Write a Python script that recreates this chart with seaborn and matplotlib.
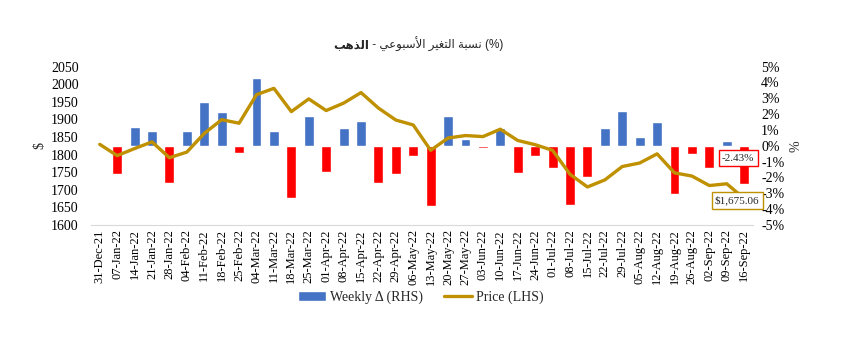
import numpy as np
import pandas as pd
import matplotlib
matplotlib.use('Agg')
import matplotlib.pyplot as plt
import seaborn as sns
from matplotlib.patches import Patch
from matplotlib.lines import Line2D
from matplotlib.ticker import FuncFormatter

# data
dates = ['31-Dec-21', '07-Jan-22', '14-Jan-22', '21-Jan-22', '28-Jan-22', '04-Feb-22',
         '11-Feb-22', '18-Feb-22', '25-Feb-22', '04-Mar-22', '11-Mar-22', '18-Mar-22',
         '25-Mar-22', '01-Apr-22', '08-Apr-22', '15-Apr-22', '22-Apr-22', '29-Apr-22',
         '06-May-22', '13-May-22', '20-May-22', '27-May-22', '03-Jun-22', '10-Jun-22',
         '17-Jun-22', '24-Jun-22', '01-Jul-22', '08-Jul-22', '15-Jul-22', '22-Jul-22',
         '29-Jul-22', '05-Aug-22', '12-Aug-22', '19-Aug-22', '26-Aug-22', '02-Sep-22',
         '09-Sep-22', '16-Sep-22']
price = [1829, 1797, 1817, 1836, 1791, 1807, 1860, 1899, 1889, 1970, 1988, 1922,
         1958, 1925, 1946, 1976, 1932, 1898, 1884, 1812, 1847, 1854, 1851, 1872,
         1840, 1828, 1812, 1744, 1708, 1728, 1766, 1776, 1802, 1748, 1739, 1712,
         1717, 1675.06]
weekly_pct = [np.nan, -1.77, 1.18, 0.93, -2.34, 0.93, 2.76, 2.13, -0.46, 4.28, 0.93, -3.29,
              1.88, -1.65, 1.14, 1.56, -2.34, -1.77, -0.63, -3.80, 1.88, 0.42, -0.13, 1.12,
              -1.71, -0.63, -1.43, -3.75, -1.96, 1.14, 2.20, 0.57, 1.52, -3.02, -0.53, -1.43,
              0.30, -2.43]

BLUE = '#4472C4'
RED = '#FF0000'
GOLD = '#BF9000'

# small arabic shaper (matplotlib has no shaping / bidi)
FORMS = {
    'ا': ('\uFE8D', '\uFE8E', None, None), 'أ': ('\uFE83', '\uFE84', None, None),
    'ذ': ('\uFEAB', '\uFEAC', None, None), 'ر': ('\uFEAD', '\uFEAE', None, None),
    'و': ('\uFEED', '\uFEEE', None, None), 'ة': ('\uFE93', '\uFE94', None, None),
    '\uFEF7': ('\uFEF7', '\uFEF8', None, None),
    'ل': ('\uFEDD', '\uFEDE', '\uFEDF', '\uFEE0'), 'ه': ('\uFEE9', '\uFEEA', '\uFEEB', '\uFEEC'),
    'ب': ('\uFE8F', '\uFE90', '\uFE91', '\uFE92'), 'ن': ('\uFEE5', '\uFEE6', '\uFEE7', '\uFEE8'),
    'س': ('\uFEB1', '\uFEB2', '\uFEB3', '\uFEB4'), 'ت': ('\uFE95', '\uFE96', '\uFE97', '\uFE98'),
    'غ': ('\uFECD', '\uFECE', '\uFECF', '\uFED0'), 'ي': ('\uFEF1', '\uFEF2', '\uFEF3', '\uFEF4'),
    'ع': ('\uFEC9', '\uFECA', '\uFECB', '\uFECC'),
}


def visual(text):
    text = text.replace('لأ', '\uFEF7')
    out = []
    for i, ch in enumerate(text):
        if ch not in FORMS:
            out.append(ch)
            continue
        prev = text[i - 1] if i > 0 else ''
        nxt = text[i + 1] if i + 1 < len(text) else ''
        jp = prev in FORMS and FORMS[prev][2] is not None
        jn = nxt in FORMS and FORMS[ch][2] is not None
        iso, fin, ini, med = FORMS[ch]
        if jp and jn:
            out.append(med)
        elif jp:
            out.append(fin)
        elif jn:
            out.append(ini)
        else:
            out.append(iso)
    return ''.join(out)[::-1]


df = pd.DataFrame({'date': dates, 'price': price, 'pct': np.array(weekly_pct) / 100})
df['sign'] = np.where(df['pct'] >= 0, 'up', 'down')

sns.set_style('white')
plt.rcParams['font.family'] = ['Liberation Serif', 'DejaVu Sans']

fig = plt.figure(figsize=(8.54, 3.51), dpi=100)
ax = fig.add_axes([0.1066, 0.359, 0.775, 0.4515])

sns.barplot(data=df, x='date', y='pct', hue='sign', order=dates,
            palette={'up': BLUE, 'down': RED}, dodge=False, width=0.57,
            errorbar=None, legend=False, ax=ax, saturation=1)

ax2 = ax.twinx()
sns.lineplot(x=np.arange(len(dates)), y=df['price'], color=GOLD, lw=2.4, ax=ax2)
ax2.set_ylim(1600, 2050)
ax2.set_yticks(np.arange(1600, 2051, 50))
ax2.yaxis.tick_left()
ax2.yaxis.set_label_position('left')

# bars axis gets the right-hand ticks (after twinx, which resets them)
ax.set_ylim(-0.05, 0.05)
ax.set_yticks(np.arange(-0.05, 0.0501, 0.01))
ax.yaxis.set_major_formatter(FuncFormatter(lambda v, p: f"{int(round(v * 100))}%"))
ax.yaxis.tick_right()
ax.yaxis.set_label_position('right')
ax.set_xlim(-0.5, len(dates) - 0.5)

for a in (ax, ax2):
    for s in a.spines.values():
        s.set_visible(False)
    a.tick_params(length=0, labelsize=10, colors='black')
ax.spines['bottom'].set_visible(True)
ax.spines['bottom'].set_color('#D9D9D9')
ax.tick_params(axis='x', labelsize=9, rotation=90, pad=3)
ax.tick_params(axis='y', pad=6)
ax2.tick_params(axis='y', pad=9)
ax.set_xlabel('')

ax.set_ylabel('%', fontsize=10, rotation=90)
ax.yaxis.set_label_coords(1.056, 0.5)
ax2.set_ylabel('$', fontsize=10, rotation=90)
ax2.yaxis.set_label_coords(-0.068, 0.5)

# data labels on last week
ax.annotate(f"{weekly_pct[-1]:.2f}%", xy=(len(dates) - 1, weekly_pct[-1] / 100),
            xytext=(-6, 26), textcoords='offset pixels', ha='center', va='center',
            fontsize=8, bbox=dict(boxstyle='square,pad=0.3', fc='white', ec=RED, lw=1))
ax2.annotate(f"${price[-1]:,.2f}", xy=(len(dates) - 1, price[-1]),
             xytext=(-7, -2), textcoords='offset pixels', ha='center', va='center',
             fontsize=8, bbox=dict(boxstyle='square,pad=0.3', fc='white', ec=GOLD, lw=1))

# title: bold run then normal run
fig.text(0.432, 0.872, visual('الذهب'), ha='right', va='center', fontsize=8.5,
         fontweight='bold', family=['Liberation Sans', 'DejaVu Sans'])
fig.text(0.432, 0.872, ' - ' + visual('نسبة التغير الأسبوعي') + ' (%)', ha='left',
         va='center', fontsize=8.5, family=['Liberation Sans', 'DejaVu Sans'])

handles = [Patch(facecolor=BLUE, label='Weekly Δ (RHS)'),
           Line2D([0], [0], color=GOLD, lw=2.4, label='Price (LHS)')]
fig.legend(handles=handles, loc='center', bbox_to_anchor=(0.493, 0.154), ncol=2,
           frameon=False, fontsize=10, handlelength=2.0, columnspacing=1.5,
           handletextpad=0.3)

plt.savefig('out.png', dpi=100)
plt.close()
